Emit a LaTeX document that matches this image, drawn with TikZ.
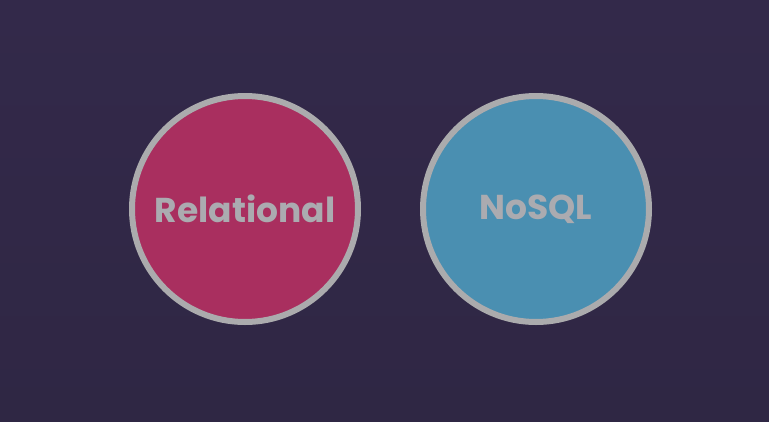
\documentclass[tikz,border=0pt]{standalone}
\usepackage{fontspec}
\setmainfont{Poppins}
\definecolor{bgtop}{HTML}{33294A}
\definecolor{bgbot}{HTML}{2F2744}
\definecolor{ringc}{HTML}{ABABAD}
\definecolor{pinkc}{HTML}{A92F5F}
\definecolor{bluec}{HTML}{4A8FB1}
\definecolor{txtc}{HTML}{ABABB0}
\tikzset{
  bubble/.style={circle, draw=ringc, line width=6pt, minimum size=226pt, inner sep=0pt,
    text=txtc, font=\fontsize{34.5}{40}\selectfont\bfseries}
}
\begin{document}
\begin{tikzpicture}[x=1pt,y=-1pt]
\fill[top color=bgtop, bottom color=bgbot] (0,0) rectangle (769,421);
\useasboundingbox (0,0) rectangle (769,421);
\node[bubble, fill=pinkc] (rel) at (245,209) {Relational};
\node[bubble, fill=bluec] (nosql) at (536,209) {NoSQL};
\end{tikzpicture}
\end{document}
